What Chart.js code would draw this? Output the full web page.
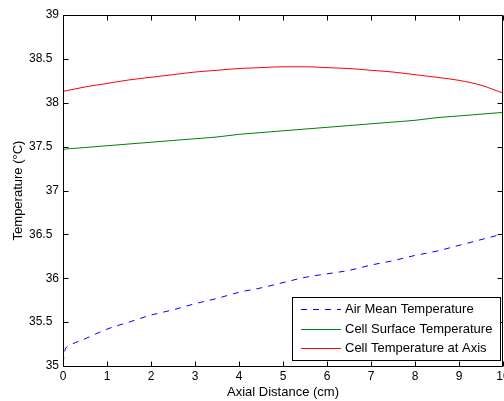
<!DOCTYPE html>
<html>
<head>
<meta charset="utf-8">
<script src="https://cdn.jsdelivr.net/npm/chart.js@4.4.1/dist/chart.umd.min.js"></script>
<style>
  html, body { margin: 0; padding: 0; background: #fff; }
  #wrap { width: 504px; height: 401px; }
</style>
</head>
<body>
<div id="wrap"><canvas id="chart" width="504" height="401"></canvas></div>
<script>
// axial positions (cm)
const axialX = [0, 0.05, 0.1, 0.25, 0.5, 1, 1.5, 2, 2.5, 3, 3.5, 4, 4.5, 5, 5.5, 6, 6.5, 7, 7.5, 8, 8.5, 9, 9.5, 10];

// temperatures (C)
const airMean = [35.03, 35.19, 35.22, 35.26, 35.31, 35.42, 35.50, 35.58, 35.64, 35.71, 35.77, 35.84, 35.89, 35.95, 36.01, 36.05, 36.09, 36.15, 36.20, 36.26, 36.31, 36.375, 36.44, 36.505];
const cellSurface = [37.47, 37.47, 37.475, 37.48, 37.49, 37.51, 37.53, 37.55, 37.57, 37.59, 37.61, 37.64, 37.66, 37.68, 37.70, 37.72, 37.74, 37.76, 37.78, 37.80, 37.83, 37.85, 37.87, 37.89];
const cellAxis = [38.13, 38.135, 38.14, 38.155, 38.18, 38.22, 38.26, 38.29, 38.32, 38.35, 38.37, 38.39, 38.40, 38.41, 38.41, 38.40, 38.39, 38.37, 38.35, 38.32, 38.29, 38.255, 38.20, 38.11];

const seriesNames = ['Air Mean Temperature', 'Cell Surface Temperature', 'Cell Temperature at Axis'];
const xTicks = [0, 1, 2, 3, 4, 5, 6, 7, 8, 9, 10];
const yTicks = [35, 35.5, 36, 36.5, 37, 37.5, 38, 38.5, 39];

const FONT = '"Liberation Sans", Arial, Helvetica, sans-serif';

function pts(ys) {
  return axialX.map((x, i) => ({ x: x, y: ys[i] }));
}

// matlab style box with inward ticks
const boxPlugin = {
  id: 'box',
  afterDatasetsDraw(chart) {
    const { ctx, chartArea: a, scales } = chart;
    const L = a.left + 0.5, R = a.right - 0.5, T = a.top + 0.5, B = a.bottom + 0.5;
    const tl = 5;
    ctx.save();
    ctx.strokeStyle = '#000';
    ctx.lineWidth = 1;
    ctx.beginPath();
    ctx.rect(L, T, R - L, B - T);
    xTicks.forEach(v => {
      const px = Math.round(scales.x.getPixelForValue(v)) + 0.5;
      ctx.moveTo(px, B); ctx.lineTo(px, B - tl);
      ctx.moveTo(px, T); ctx.lineTo(px, T + tl);
    });
    yTicks.forEach(v => {
      const py = Math.round(scales.y.getPixelForValue(v)) + 0.5;
      ctx.moveTo(L, py); ctx.lineTo(L + tl, py);
      ctx.moveTo(R, py); ctx.lineTo(R - tl, py);
    });
    ctx.stroke();
    ctx.restore();
  }
};

// legend box in lower right corner
const legendPlugin = {
  id: 'mlegend',
  afterDraw(chart) {
    const { ctx, chartArea: a } = chart;
    const w = 208, h = 63;
    const x0 = a.right - 3 - w, y0 = a.bottom - 6 - h;
    ctx.save();
    ctx.fillStyle = '#fff';
    ctx.fillRect(x0, y0, w, h);
    ctx.strokeStyle = '#000';
    ctx.lineWidth = 1;
    ctx.strokeRect(x0 + 0.5, y0 + 0.5, w, h);
    ctx.font = '13px ' + FONT;
    ctx.textBaseline = 'middle';
    chart.data.datasets.forEach((ds, i) => {
      const y = Math.round(y0 + 12 + i * 19.5) + 0.5;
      ctx.strokeStyle = ds.borderColor;
      ctx.setLineDash(ds.borderDash || []);
      ctx.beginPath();
      ctx.moveTo(x0 + 9, y);
      ctx.lineTo(x0 + 49, y);
      ctx.stroke();
      ctx.setLineDash([]);
      ctx.fillStyle = '#000';
      ctx.fillText(ds.label, x0 + 53, y);
    });
    ctx.restore();
  }
};

const config = {
  type: 'line',
  data: {
    datasets: [
      { label: seriesNames[0], data: pts(airMean), borderColor: '#0000ff', borderDash: [6, 6], borderWidth: 1, pointRadius: 0, cubicInterpolationMode: 'monotone' },
      { label: seriesNames[1], data: pts(cellSurface), borderColor: '#008000', borderWidth: 1, pointRadius: 0, cubicInterpolationMode: 'monotone' },
      { label: seriesNames[2], data: pts(cellAxis), borderColor: '#ff0000', borderWidth: 1, pointRadius: 0, cubicInterpolationMode: 'monotone' }
    ]
  },
  options: {
    responsive: false,
    animation: false,
    layout: { padding: { top: 15, right: 1, left: 0, bottom: 0 } },
    plugins: { legend: { display: false }, tooltip: { enabled: false } },
    scales: {
      x: {
        type: 'linear', min: 0, max: 10,
        afterFit(s) { s.height = 35; s.paddingLeft = 0; s.paddingRight = 0; },
        afterBuildTicks(s) { s.ticks = xTicks.map(v => ({ value: v })); },
        grid: { display: false, drawTicks: false },
        border: { display: false },
        ticks: { color: '#000', padding: 3, maxRotation: 0, font: { family: FONT, size: 12 } },
        title: { display: true, text: 'Axial Distance (cm)', color: '#000', padding: { top: 0, bottom: 1 }, font: { family: FONT, size: 13 } }
      },
      y: {
        min: 35, max: 39,
        afterFit(s) { s.width = 63; s.paddingTop = 0; s.paddingBottom = 0; },
        afterBuildTicks(s) { s.ticks = yTicks.map(v => ({ value: v })); },
        grid: { display: false, drawTicks: false },
        border: { display: false },
        ticks: {
          color: '#000', padding: 4, font: { family: FONT, size: 12 },
          callback: v => (v % 1 === 0 ? String(v) : String(v) + '  ')
        },
        title: { display: true, text: 'Temperature (°C)', color: '#000', padding: { top: 11, bottom: 0 }, font: { family: FONT, size: 13 } }
      }
    }
  },
  plugins: [boxPlugin, legendPlugin]
};

new Chart(document.getElementById('chart').getContext('2d'), config);
</script>
</body>
</html>
